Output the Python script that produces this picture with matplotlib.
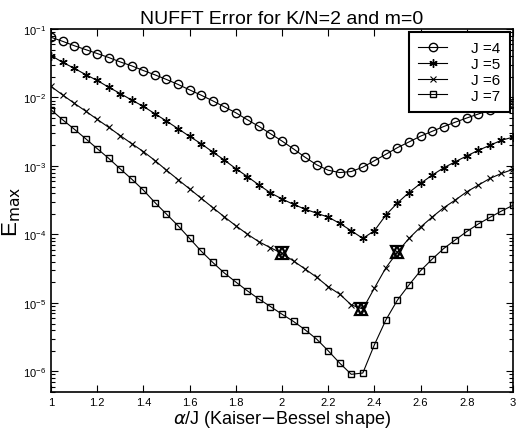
import matplotlib
matplotlib.use("Agg")
import matplotlib.pyplot as plt
import numpy as np

plt.rcParams["font.family"] = ["Liberation Sans", "DejaVu Sans"]

# alpha/J grid, 1.0 .. 3.0 in steps of 0.05
alpha_over_j = [1.00, 1.05, 1.10, 1.15, 1.20, 1.25, 1.30, 1.35, 1.40, 1.45,
                1.50, 1.55, 1.60, 1.65, 1.70, 1.75, 1.80, 1.85, 1.90, 1.95,
                2.00, 2.05, 2.10, 2.15, 2.20, 2.25, 2.30, 2.35, 2.40, 2.45,
                2.50, 2.55, 2.60, 2.65, 2.70, 2.75, 2.80, 2.85, 2.90, 2.95, 3.00]

err_j4 = [7.57e-2, 6.61e-2, 5.71e-2, 5.00e-2, 4.38e-2, 3.83e-2, 3.30e-2, 2.89e-2, 2.47e-2, 2.14e-2,
          1.83e-2, 1.55e-2, 1.29e-2, 1.08e-2, 8.93e-3, 7.31e-3, 5.98e-3, 4.73e-3, 3.78e-3, 2.96e-3,
          2.31e-3, 1.77e-3, 1.34e-3, 1.04e-3, 8.65e-4, 8.00e-4, 8.28e-4, 9.59e-4, 1.19e-3, 1.48e-3,
          1.85e-3, 2.24e-3, 2.72e-3, 3.20e-3, 3.76e-3, 4.35e-3, 5.01e-3, 5.73e-3, 6.53e-3, 7.41e-3, 8.38e-3]

err_j5 = [4.09e-2, 3.27e-2, 2.67e-2, 2.16e-2, 1.77e-2, 1.41e-2, 1.14e-2, 9.14e-3, 7.40e-3, 5.78e-3,
          4.52e-3, 3.50e-3, 2.70e-3, 2.11e-3, 1.60e-3, 1.22e-3, 9.14e-4, 7.00e-4, 5.28e-4, 4.05e-4,
          3.30e-4, 2.74e-4, 2.34e-4, 2.04e-4, 1.79e-4, 1.45e-4, 1.13e-4, 8.75e-5, 1.13e-4, 1.92e-4,
          2.88e-4, 4.09e-4, 5.55e-4, 7.33e-4, 9.38e-4, 1.15e-3, 1.40e-3, 1.69e-3, 2.00e-3, 2.37e-3, 2.63e-3]

err_j6 = [1.45e-2, 1.09e-2, 8.26e-3, 6.32e-3, 4.79e-3, 3.66e-3, 2.77e-3, 2.11e-3, 1.62e-3, 1.20e-3,
          8.65e-4, 6.32e-4, 4.62e-4, 3.38e-4, 2.47e-4, 1.81e-4, 1.34e-4, 1.01e-4, 7.82e-5, 6.40e-5,
          5.28e-5, 4.09e-5, 3.13e-5, 2.37e-5, 1.73e-5, 1.34e-5, 9.35e-6, 8.13e-6, 1.64e-5, 3.26e-5,
          5.52e-5, 8.77e-5, 1.28e-4, 1.79e-4, 2.45e-4, 3.17e-4, 4.19e-4, 5.24e-4, 6.56e-4, 7.76e-4, 8.91e-4]

err_j7 = [6.61e-3, 4.73e-3, 3.46e-3, 2.50e-3, 1.79e-3, 1.29e-3, 9.04e-4, 6.40e-4, 4.43e-4, 2.92e-4,
          1.98e-4, 1.34e-4, 8.75e-5, 5.71e-5, 3.91e-5, 2.74e-5, 2.02e-5, 1.50e-5, 1.14e-5, 8.85e-6,
          6.84e-6, 5.35e-6, 4.05e-6, 2.96e-6, 2.00e-6, 1.32e-6, 9.06e-7, 9.46e-7, 2.44e-6, 5.65e-6,
          1.10e-5, 1.83e-5, 2.95e-5, 4.35e-5, 6.21e-5, 8.30e-5, 1.10e-4, 1.42e-4, 1.77e-4, 2.19e-4, 2.66e-4]

# highlighted points on the J=6 curve
star_x = [2.00, 2.34, 2.50]
star_y = [5.28e-5, 8.2e-6, 5.52e-5]

labels = ["J =4", "J =5", "J =6", "J =7"]

fig = plt.figure(figsize=(5.16, 4.35), dpi=100)
ax = fig.add_axes([0.0988, 0.0966, 0.8953, 0.8345])

styles = [
    dict(marker="o", ms=6, mfc="none"),
    dict(marker=(6, 2, 0), ms=6),
    dict(marker="x", ms=4, mew=0.8),
    dict(marker="s", ms=5, mfc="none"),
]
for y, lab, st in zip([err_j4, err_j5, err_j6, err_j7], labels, styles):
    ax.plot(alpha_over_j, y, color="black", lw=0.8, mec="black", label=lab, **st)

for mk in ["^", "v"]:
    ax.plot(star_x, star_y, ls="none", marker=mk, ms=8.5, mfc="none",
            mec="black", mew=1.6, zorder=5)

ax.set_yscale("log")
ax.set_xlim(1, 3)
ax.set_ylim(5e-7, 1e-1)
ax.set_xticks(np.arange(1, 3.01, 0.2))
ax.set_xticklabels(["1", "1.2", "1.4", "1.6", "1.8", "2", "2.2", "2.4", "2.6", "2.8", "3"])
ax.tick_params(which="both", direction="in", top=True, right=True, labelsize=8, width=0.8)
ax.tick_params(which="major", length=5)
ax.tick_params(which="minor", length=3)
for s in ax.spines.values():
    s.set_linewidth(1.2)

ax.set_title("NUFFT Error for K/N=2 and m=0", fontsize=14, pad=4)
ax.set_xlabel(r"$\alpha$/J (Kaiser$-$Bessel shape)", fontsize=13, labelpad=1)
ax.set_ylabel(r"E$_{\rm max}$", fontsize=16, labelpad=0)

leg = ax.legend(loc="upper right", fontsize=11, fancybox=False, framealpha=1,
                edgecolor="black", handlelength=1.9, borderaxespad=0.2,
                borderpad=0.6, labelspacing=0.12, handletextpad=1.6)
leg.get_frame().set_linewidth(1.5)

fig.savefig("out.png", dpi=100)
